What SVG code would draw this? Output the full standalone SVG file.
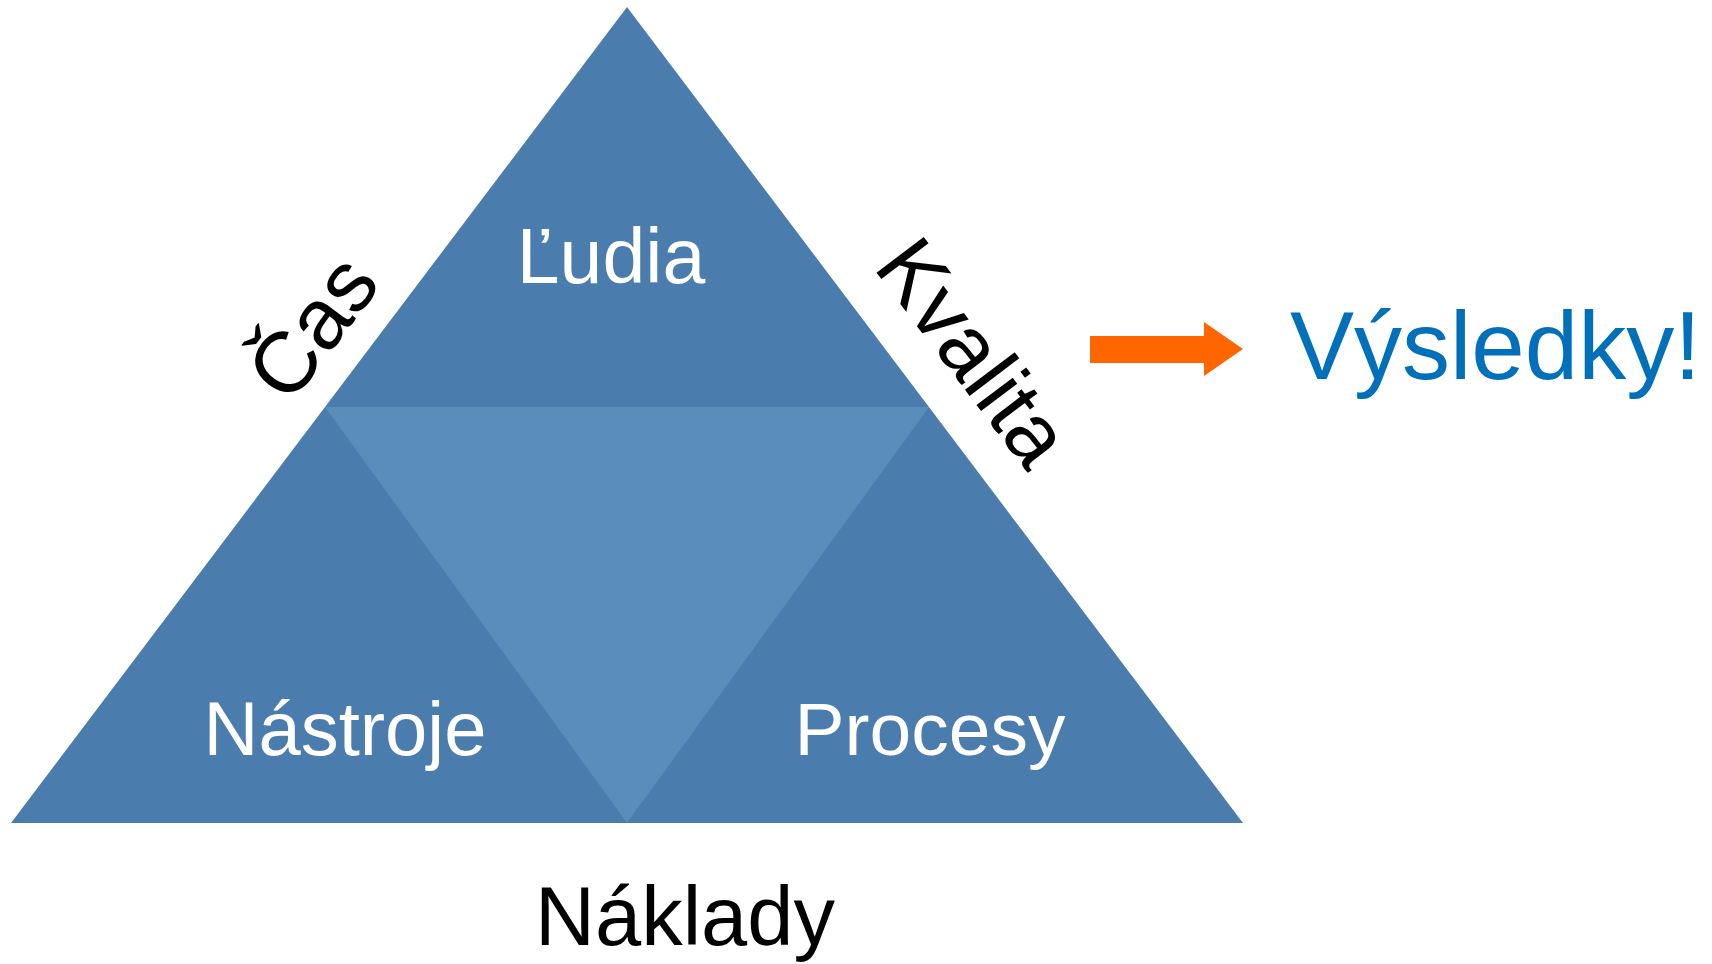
<svg xmlns="http://www.w3.org/2000/svg" width="1712" height="964" viewBox="0 0 1712 964">
<style>
.dark{fill:#4A7DAD}
.light{fill:#5B8DBB}
.w{fill:#FFFFFF;font-family:"Liberation Sans",Arial,sans-serif;font-size:77px;text-anchor:middle}
.b{fill:#000000;font-family:"Liberation Sans",Arial,sans-serif;font-size:86px;text-anchor:middle}
</style>
<rect width="1712" height="964" fill="#FFFFFF"/>
<g id="triangle">
<polygon class="dark" points="627,7 11,823 1243,823"/>
<polygon class="light" points="325,407 929,407 627,823"/>
</g>
<g id="ludia"><text class="w" x="611" y="283">Ľudia</text></g>
<g id="nastroje"><text class="w" x="345" y="755" style="font-size:76px">Nástroje</text></g>
<g id="procesy"><text class="w" x="930" y="755" style="font-size:75px">Procesy</text></g>
<g id="cas"><text class="b" transform="translate(336,345) rotate(-52.9)">Čas</text></g>
<g id="kvalita"><text class="b" transform="translate(950,370) rotate(52.9)">Kvalita</text></g>
<g id="naklady"><text class="b" x="685" y="945" style="font-size:83px">Náklady</text></g>
<g id="connectors">
<polygon fill="#FF6600" points="1090,336 1204,336 1204,322 1243,349 1204,376 1204,363 1090,363"/>
</g>
<g id="vysledky"><text x="1290" y="379" style="fill:#0070BA;font-family:'Liberation Sans',Arial,sans-serif;font-size:96px">Výsledky!</text></g>
</svg>
